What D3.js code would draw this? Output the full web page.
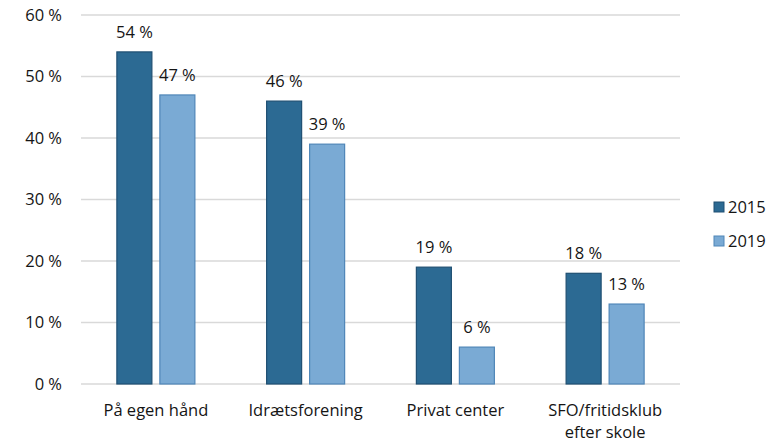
<!DOCTYPE html>
<html>
<head>
<meta charset="utf-8">
<script src="https://cdn.jsdelivr.net/npm/d3@7"></script>
<style>
  html, body { margin: 0; padding: 0; background: #fff; }
  svg { display: block; font-family: "Open Sans", "Lato", sans-serif; }
</style>
</head>
<body>
<svg id="chart" width="774" height="443"></svg>
<script>
// Categories and series values (percent)
const categories = ["På egen hånd", "Idrætsforening", "Privat center", "SFO/fritidsklub\nefter skole"];
const years = ["2015", "2019"];
const values2015 = [54, 46, 19, 18];
const values2019 = [47, 39, 6, 13];
const yTicks = [0, 10, 20, 30, 40, 50, 60];

const fills = { "2015": "#2c6a93", "2019": "#7aaad4" };
const strokes = { "2015": "#1f4f72", "2019": "#4f86b8" };
const FONT = "'Open Sans', Lato, sans-serif";
const FS = 16.5;
const INK = "#151515";

const svg = d3.select("#chart");
const margin = { left: 81, right: 94, top: 15, bottom: 59 };
const W = 774, H = 443;
const x0 = margin.left, x1 = W - margin.right;
const yTop = margin.top, yBot = H - margin.bottom;

const x = d3.scaleBand().domain(categories).range([x0, x1]).paddingInner(0).paddingOuter(0);
const y = d3.scaleLinear().domain([0, 60]).range([yBot, yTop]);

const barW = 35, gap = 8;
const xs = d3.scaleOrdinal().domain(years).range([-(gap / 2) - barW, gap / 2]);

// Horizontal gridlines
svg.append("g")
  .selectAll("line")
  .data(yTicks)
  .join("line")
  .attr("x1", x0).attr("x2", x1)
  .attr("y1", d => y(d)).attr("y2", d => y(d))
  .attr("stroke", "#d9d9d9").attr("stroke-width", 1.3);

// Y axis labels
const yAxis = d3.axisLeft(y).tickValues(yTicks).tickSize(0).tickPadding(0)
  .tickFormat(d => d + " %");
svg.append("g")
  .attr("transform", `translate(${x0 - 19},0)`)
  .call(yAxis)
  .call(g => g.select(".domain").remove())
  .call(g => g.selectAll("text")
    .attr("font-size", FS).attr("fill", INK)
    .attr("font-family", FONT));

const rows = categories.map((c, i) => ({ cat: c, "2015": values2015[i], "2019": values2019[i] }));

// Bars
const groups = svg.append("g").selectAll("g")
  .data(rows)
  .join("g")
  .attr("transform", d => `translate(${x(d.cat) + x.bandwidth() / 2},0)`);

groups.selectAll("rect")
  .data(d => years.map(k => ({ key: k, value: d[k] })))
  .join("rect")
  .attr("x", d => xs(d.key))
  .attr("y", d => y(d.value))
  .attr("width", barW)
  .attr("height", d => y(0) - y(d.value))
  .attr("fill", d => fills[d.key])
  .attr("stroke", d => strokes[d.key])
  .attr("stroke-width", 1.2);

// Value labels
groups.selectAll("text.val")
  .data(d => years.map(k => ({ key: k, value: d[k] })))
  .join("text")
  .attr("class", "val")
  .attr("x", d => xs(d.key) + barW / 2)
  .attr("y", d => y(d.value) - 14)
  .attr("text-anchor", "middle")
  .attr("font-size", FS)
  .attr("fill", INK)
  .text(d => d.value + " %");

// Category labels
svg.append("g").selectAll("text")
  .data(categories)
  .join("text")
  .attr("x", d => x(d) + x.bandwidth() / 2)
  .attr("y", yBot + 32)
  .attr("text-anchor", "middle")
  .attr("font-size", FS)
  .attr("fill", INK)
  .each(function (d) {
    const lines = d.split("\n");
    d3.select(this).selectAll("tspan")
      .data(lines)
      .join("tspan")
      .attr("x", x(d) + x.bandwidth() / 2)
      .attr("dy", (l, i) => i === 0 ? 0 : 22)
      .text(l => l);
  });

// Legend
const legend = svg.append("g").attr("transform", "translate(714,202)");
const li = legend.selectAll("g").data(years).join("g")
  .attr("transform", (d, i) => `translate(0,${i * 34})`);
li.append("rect")
  .attr("width", 10).attr("height", 10)
  .attr("fill", d => fills[d]).attr("stroke", d => strokes[d]).attr("stroke-width", 1);
li.append("text")
  .attr("x", 14).attr("y", 11)
  .attr("font-size", FS).attr("fill", INK)
  .text(d => d);
</script>
</body>
</html>
